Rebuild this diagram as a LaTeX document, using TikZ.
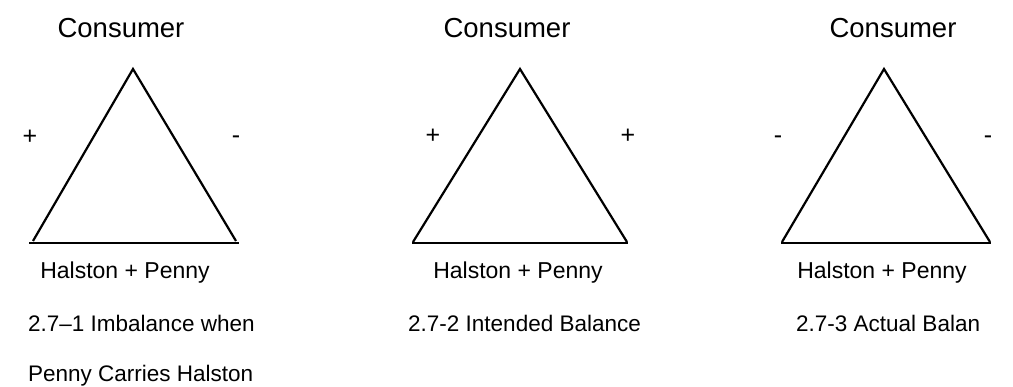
\documentclass[tikz,border=0pt]{standalone}
\usepackage{fontspec}
\setmainfont{Liberation Sans}
\begin{document}
\begin{tikzpicture}[x=1pt,y=-1pt,
  tri/.style={line width=2.2pt,line join=miter},
  base/.style={line width=2.2pt},
  title/.style={inner sep=0pt,anchor=base,font=\fontsize{27.5}{32}\selectfont},
  party/.style={inner sep=0pt,anchor=base,font=\fontsize{23}{27}\selectfont},
  captext/.style={inner sep=0pt,anchor=base west,font=\fontsize{22.5}{27}\selectfont},
  sign/.style={inner sep=0pt,anchor=base,font=\fontsize{25}{28}\selectfont}]
\useasboundingbox (0,0) rectangle (1013,387);
% Triangle 1
\coordinate (a1) at (133,69);
\coordinate (l1) at (33,241);
\coordinate (r1) at (236,241);
\coordinate (bl1) at (29,243);
\coordinate (br1) at (239,243);
\draw[tri] (l1) -- (a1) -- (r1);
\draw[base] (bl1) -- (br1);
\node[title] (c1) at (121,38) {Consumer};
\node[party] (h1) at (125,279) {Halston + Penny};
\node[sign] (p1) at (30,145) {+};
\node[sign] (m1) at (236,144) {-};
\node[captext] (t1) at (28,332) {2.7–1 Imbalance when};
\node[captext] (u1) at (28,382) {Penny Carries Halston};
% Triangle 2
\coordinate (a2) at (520,69);
\coordinate (l2) at (413,242);
\coordinate (r2) at (627,242);
\coordinate (bl2) at (412,243);
\coordinate (br2) at (628,243);
\draw[tri] (l2) -- (a2) -- (r2);
\draw[base] (bl2) -- (br2);
\node[title] (c2) at (507,38) {Consumer};
\node[party] (h2) at (518,279) {Halston + Penny};
\node[sign] (p2) at (433,144) {+};
\node[sign] (q2) at (628,144) {+};
\node[captext] (t2) at (408,332) {2.7-2 Intended Balance};
% Triangle 3
\coordinate (a3) at (884,69);
\coordinate (l3) at (782,242);
\coordinate (r3) at (990,242);
\coordinate (bl3) at (781,243);
\coordinate (br3) at (991,243);
\draw[tri] (l3) -- (a3) -- (r3);
\draw[base] (bl3) -- (br3);
\node[title] (c3) at (893,38) {Consumer};
\node[party] (h3) at (882,279) {Halston + Penny};
\node[sign] (m3) at (778,144) {-};
\node[sign] (n3) at (988,144) {-};
\node[captext] (t3) at (796,332) {2.7-3 Actual Balan};
\end{tikzpicture}
\end{document}
